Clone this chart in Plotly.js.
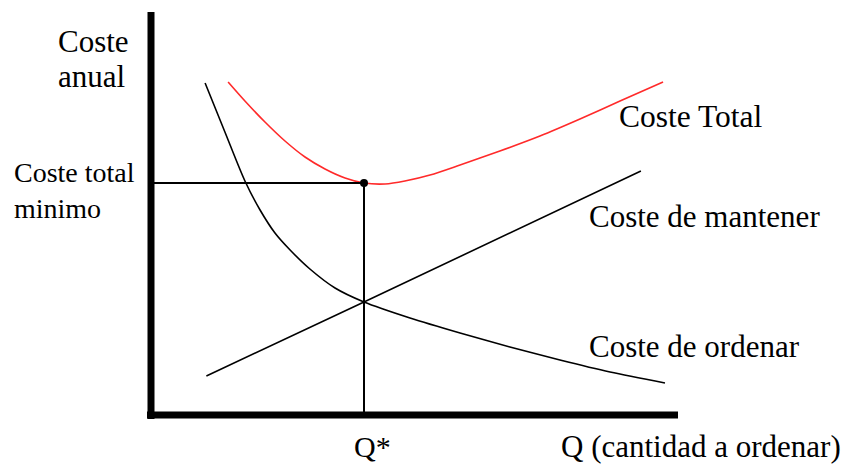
<!DOCTYPE html>
<html>
<head>
<meta charset="utf-8">
<script src="https://cdn.plot.ly/plotly-3.0.1.min.js"></script>
<style>
  html, body { margin: 0; padding: 0; background: #ffffff; }
  #chart { width: 844px; height: 466px; }
</style>
</head>
<body>
<div id="chart"></div>
<script>
// Quantity ordered (Q* = 100) and annual cost along each curve
const qOrdenar = [25.4, 34.7, 44.1, 51.2, 58.2, 65.3, 74.6, 86.4, 100, 121.6, 145.1, 168.5, 192.0, 215.5, 241.3];
const costeOrdenar = [332, 283, 234, 205, 182, 165, 146, 127, 113, 97, 82, 68, 55, 43, 32];

const qMantener = [26, 100, 230];
const costeMantener = [39, 113, 244];

const qTotal = [36.2, 44.1, 53.5, 62.9, 72.3, 81.7, 91.1, 100, 109.9, 119.2, 131.0, 145.1, 163.8, 182.6, 201.4, 220.2, 240.4];
const costeTotal = [333, 314, 293, 274, 258, 246, 237, 232, 231, 234, 240, 250, 264, 279, 296, 314, 333];

const qOptima = 100;
const costeMinimo = 232;

// Plot-area geometry (pixels)
const L = 151, T = 12, W = 527, H = 403;
const B = T + H;
const SERIF = '"Liberation Serif", "Times New Roman", serif';

function label(text, px, baseline, size) {
  return {
    text: text, xref: 'paper', yref: 'paper',
    x: (px - L) / W, y: (B - (baseline - 0.35 * size)) / H,
    xanchor: 'left', yanchor: 'middle', showarrow: false,
    font: { family: SERIF, size: size, color: '#000000' }
  };
}

const traces = [
  { x: qOrdenar, y: costeOrdenar, mode: 'lines', line: { color: '#000000', width: 1.6, shape: 'spline', smoothing: 0.8 }, hoverinfo: 'skip' },
  { x: qMantener, y: costeMantener, mode: 'lines', line: { color: '#000000', width: 1.6 }, hoverinfo: 'skip' },
  { x: qTotal, y: costeTotal, mode: 'lines', line: { color: '#ff2a2a', width: 1.6, shape: 'spline', smoothing: 0.8 }, hoverinfo: 'skip' },
  { x: [0, qOptima, qOptima], y: [costeMinimo, costeMinimo, 0], mode: 'lines', line: { color: '#000000', width: 2 }, hoverinfo: 'skip' },
  { x: [qOptima], y: [costeMinimo], mode: 'markers', marker: { color: '#000000', size: 8, symbol: 'circle' }, hoverinfo: 'skip' }
];

const layout = {
  width: 844, height: 466,
  margin: { l: L, r: 844 - L - W, t: T, b: 466 - B },
  paper_bgcolor: '#ffffff', plot_bgcolor: '#ffffff',
  showlegend: false,
  xaxis: { range: [0, W / 2.13], showgrid: false, zeroline: false, showticklabels: false, ticks: '', showline: false },
  yaxis: { range: [0, H], showgrid: false, zeroline: false, showticklabels: false, ticks: '', showline: false },
  shapes: [
    { type: 'line', xref: 'paper', yref: 'paper', x0: 0, x1: 0, y0: -4 / H, y1: 1, line: { color: '#000000', width: 7 } },
    { type: 'line', xref: 'paper', yref: 'paper', x0: -4 / W, x1: 1, y0: 0, y1: 0, line: { color: '#000000', width: 7 } }
  ],
  annotations: [
    label('Coste', 56, 52, 31),
    label('anual', 56, 87, 31),
    label('Coste total', 12, 182, 28),
    label('minimo', 12, 218, 28),
    label('Coste Total', 617, 128, 31.5),
    label('Coste de mantener', 587, 227, 31),
    label('Coste de ordenar', 587, 357, 31),
    label('Q*', 352, 457, 30),
    label('Q (cantidad a ordenar)', 559, 457, 31)
  ]
};

Plotly.newPlot('chart', traces, layout, { staticPlot: true, displayModeBar: false });
</script>
</body>
</html>
